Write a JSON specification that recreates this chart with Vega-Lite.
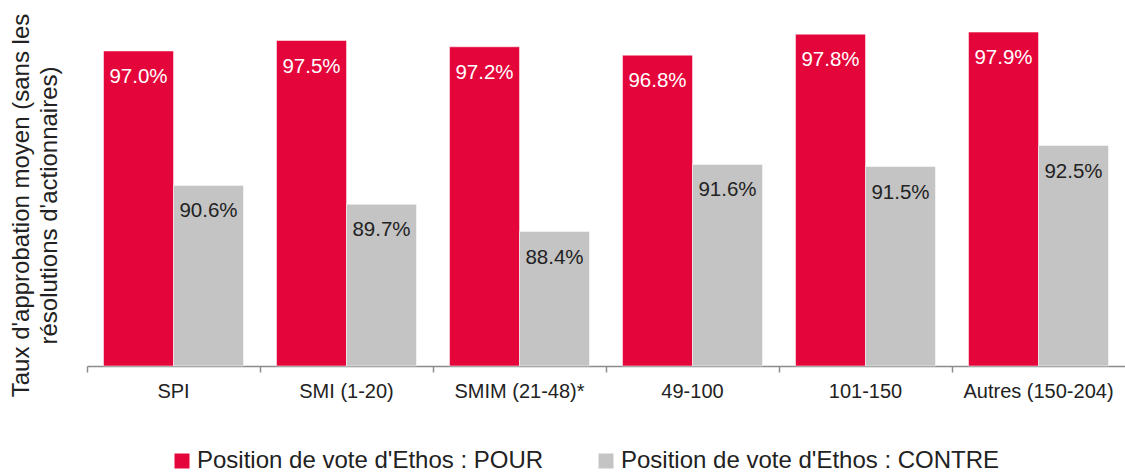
{
  "$schema": "https://vega.github.io/schema/vega-lite/v6.json",
  "autosize": {"type": "none"},
  "width": 1038,
  "height": 357,
  "padding": {"left": 87, "top": 9, "right": 0, "bottom": 107},
  "background": "white",
  "config": {
    "view": {"stroke": null},
    "font": "Liberation Sans"
  },
  "data": {
    "values": [
      {"groupe": "SPI", "serie": "Position de vote d'Ethos : POUR", "taux": 0.970},
      {"groupe": "SPI", "serie": "Position de vote d'Ethos : CONTRE", "taux": 0.906},
      {"groupe": "SMI (1-20)", "serie": "Position de vote d'Ethos : POUR", "taux": 0.975},
      {"groupe": "SMI (1-20)", "serie": "Position de vote d'Ethos : CONTRE", "taux": 0.897},
      {"groupe": "SMIM (21-48)*", "serie": "Position de vote d'Ethos : POUR", "taux": 0.972},
      {"groupe": "SMIM (21-48)*", "serie": "Position de vote d'Ethos : CONTRE", "taux": 0.884},
      {"groupe": "49-100", "serie": "Position de vote d'Ethos : POUR", "taux": 0.968},
      {"groupe": "49-100", "serie": "Position de vote d'Ethos : CONTRE", "taux": 0.916},
      {"groupe": "101-150", "serie": "Position de vote d'Ethos : POUR", "taux": 0.978},
      {"groupe": "101-150", "serie": "Position de vote d'Ethos : CONTRE", "taux": 0.915},
      {"groupe": "Autres (150-204)", "serie": "Position de vote d'Ethos : POUR", "taux": 0.979},
      {"groupe": "Autres (150-204)", "serie": "Position de vote d'Ethos : CONTRE", "taux": 0.925}
    ]
  },
  "encoding": {
    "x": {
      "field": "groupe",
      "type": "nominal",
      "sort": null,
      "scale": {"paddingInner": 0, "paddingOuter": 0},
      "axis": {
        "title": null,
        "labelAngle": 0,
        "labelFontSize": 20,
        "labelColor": "#222222",
        "labelPadding": 9,
        "bandPosition": 0,
        "tickSize": 6,
        "tickColor": "#8c8c8c",
        "domainColor": "#8c8c8c",
        "domainWidth": 1.5,
        "tickWidth": 1.5,
        "grid": false
      }
    },
    "xOffset": {
      "field": "serie",
      "type": "nominal",
      "sort": ["Position de vote d'Ethos : POUR", "Position de vote d'Ethos : CONTRE"],
      "scale": {"paddingInner": 0, "paddingOuter": 0.236}
    },
    "y": {
      "field": "taux",
      "type": "quantitative",
      "scale": {"domain": [0.82, 0.99], "zero": false, "nice": false, "clamp": true},
      "axis": {
        "title": ["Taux d'approbation moyen (sans les", "résolutions d'actionnaires)"],
        "titleFontSize": 24,
        "titleFontWeight": "normal",
        "titleColor": "#222222",
        "titleLineHeight": 28,
        "titleBaseline": "middle",
        "titleAlign": "center",
        "titleAngle": -90,
        "titleX": -66,
        "titleY": 196,
        "labels": false,
        "ticks": false,
        "domain": false,
        "grid": false
      }
    }
  },
  "layer": [
    {
      "mark": {"type": "bar", "stroke": "white", "strokeWidth": 0.5},
      "encoding": {
        "color": {
          "field": "serie",
          "type": "nominal",
          "sort": ["Position de vote d'Ethos : POUR", "Position de vote d'Ethos : CONTRE"],
          "scale": {
            "domain": ["Position de vote d'Ethos : POUR", "Position de vote d'Ethos : CONTRE"],
            "range": ["#e4053b", "#c4c4c4"]
          },
          "legend": {
            "title": null,
            "orient": "none",
            "direction": "horizontal",
            "legendX": 83,
            "legendY": 440,
            "padding": 0,
            "symbolType": "square",
            "symbolSize": 225,
            "symbolStrokeWidth": 0,
            "labelFontSize": 24,
            "labelColor": "#222222",
            "labelOffset": 3,
            "columnPadding": 50,
            "labelLimit": 600
          }
        }
      }
    },
    {
      "mark": {"type": "text", "baseline": "middle", "align": "center", "dy": 26, "fontSize": 20.5},
      "encoding": {
        "text": {"field": "taux", "type": "quantitative", "format": ".1%"},
        "color": {
          "condition": {"test": "datum.serie === \"Position de vote d'Ethos : POUR\"", "value": "white"},
          "value": "#222222"
        }
      }
    }
  ]
}
